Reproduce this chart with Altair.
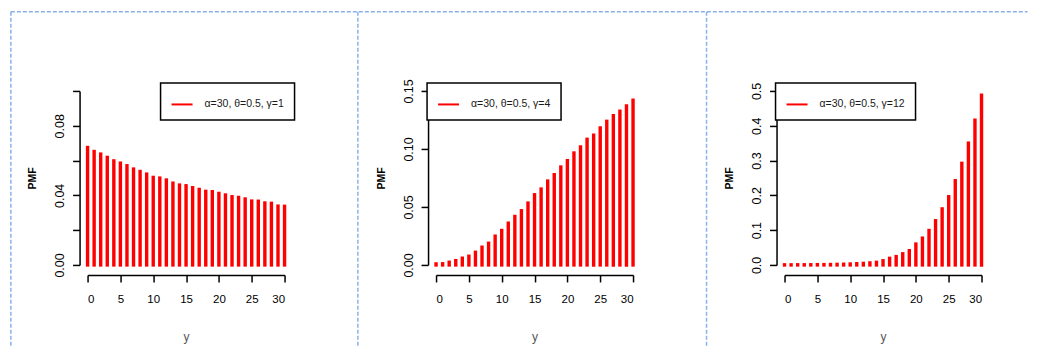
import altair as alt
import pandas as pd

# ---- data ----
y_vals = list(range(31))

pmf_gamma1 = [0.0675, 0.0652, 0.0637, 0.0618, 0.0598, 0.0585, 0.0570, 0.0551,
              0.0537, 0.0522, 0.0503, 0.0499, 0.0488, 0.0470, 0.0459, 0.0455,
              0.0444, 0.0434, 0.0423, 0.0421, 0.0411, 0.0402, 0.0392, 0.0388,
              0.0379, 0.0367, 0.0366, 0.0356, 0.0354, 0.0338, 0.0337]

pmf_gamma4 = [0.0009, 0.0010, 0.0023, 0.0037, 0.0058, 0.0075, 0.0109, 0.0153,
              0.0187, 0.0248, 0.0297, 0.0360, 0.0418, 0.0467, 0.0533, 0.0605,
              0.0654, 0.0723, 0.0778, 0.0844, 0.0899, 0.0965, 0.1017, 0.1083,
              0.1118, 0.1181, 0.1238, 0.1287, 0.1325, 0.1371, 0.1420]

pmf_gamma12 = [0.0003, 0.0003, 0.0004, 0.0005, 0.0006, 0.0008, 0.0010, 0.0013,
               0.0016, 0.0021, 0.0027, 0.0035, 0.0045, 0.0058, 0.0075, 0.0120,
               0.0190, 0.0240, 0.0320, 0.0410, 0.0600, 0.0770, 0.0990, 0.1270,
               0.1610, 0.1960, 0.2420, 0.2920, 0.3500, 0.4160, 0.4880]

series_labels = ["α=30, θ=0.5, γ=1", "α=30, θ=0.5, γ=4", "α=30, θ=0.5, γ=12"]

x_ticks = [0, 5, 10, 15, 20, 25, 30]
y_ticks_1 = [0, 0.02, 0.04, 0.06, 0.08, 0.10]
y_ticks_2 = [0, 0.05, 0.10, 0.15]
y_ticks_3 = [0, 0.1, 0.2, 0.3, 0.4, 0.5]

FONT = "Liberation Sans"
BORDER = "#8ab2ea"


def panel(vals, label, ymax, yticks, label_expr, legend_x):
    df = pd.DataFrame({"y": y_vals, "pmf": vals, "series": [label] * len(y_vals)})
    return alt.Chart(df).mark_rule(strokeWidth=3.4, strokeCap="square").encode(
        x=alt.X("y:Q",
                scale=alt.Scale(domain=[0, 30], nice=False, zero=False),
                axis=alt.Axis(values=x_ticks, title="y", offset=10,
                              labelFontSize=11.5, labelPadding=12, labelAngle=0,
                              titleColor="#555555", titleFontWeight="normal",
                              titleFontSize=12, titlePadding=26)),
        y=alt.Y("pmf:Q",
                scale=alt.Scale(domain=[0, ymax], nice=False, zero=True),
                axis=alt.Axis(values=yticks, labelExpr=label_expr, title="PMF",
                              offset=8, labelAngle=270, labelFontSize=12.5,
                              labelPadding=6, titleFontWeight="bold",
                              titleFontSize=10.5, titlePadding=16,
                              titleColor="black")),
        y2=alt.datum(0),
        color=alt.Color("series:N",
                        scale=alt.Scale(domain=[label], range=["#ff0000"]),
                        legend=alt.Legend(title=None, orient="none",
                                          legendX=legend_x, legendY=-8,
                                          symbolType="stroke",
                                          symbolStrokeWidth=2,
                                          symbolSize=441,
                                          labelFontSize=10.5,
                                          labelOffset=11,
                                          labelColor="#1a1a1a",
                                          labelFont=FONT,
                                          padding=10,
                                          fillColor="white",
                                          strokeColor="black")),
    ).properties(width=197, height=174)


def border(x1, x2, y1, y2):
    return alt.Chart(pd.DataFrame({"k": [0]})).mark_rule(
        color=BORDER, strokeWidth=1.5, strokeDash=[4, 2]
    ).encode(x=alt.value(x1), x2=alt.value(x2), y=alt.value(y1), y2=alt.value(y2))


p1 = panel(pmf_gamma1, series_labels[0], 0.10, y_ticks_1,
           "(round(datum.value*100) % 4 == 0 && datum.value < 0.09) ? format(datum.value, '.2f') : ''",
           73)
p2 = panel(pmf_gamma4, series_labels[1], 0.15, y_ticks_2,
           "format(datum.value, '.2f')", -9)
p3 = panel(pmf_gamma12, series_labels[2], 0.5, y_ticks_3,
           "format(datum.value, '.1f')", -9)

# table cell borders (decoration), relative to panel 1 plot origin
p1_layer = alt.layer(
    border(-76.7, 940, -79.3, -79.3),
    border(-76.7, -76.7, -79.3, 255),
    border(270.3, 270.3, -79.3, 255),
    border(619, 619, -79.3, 255),
    p1,
).properties(width=197, height=174)

chart = alt.hconcat(p1_layer, p2, p3, spacing=151.5, bounds="flush").resolve_scale(
    color="independent"
).resolve_legend(color="independent").properties(
    padding={"left": 1.55, "top": 1.95, "right": 0, "bottom": 0}
).configure_view(strokeWidth=0).configure_axis(
    domainColor="black", tickColor="black", labelColor="black",
    domainWidth=1.5, tickWidth=1.5, tickSize=7, grid=False,
    labelFont=FONT, titleFont=FONT
).configure_legend(strokeWidth=1.5)

chart.save("out.html", embed_options={"renderer": "svg", "actions": False})
